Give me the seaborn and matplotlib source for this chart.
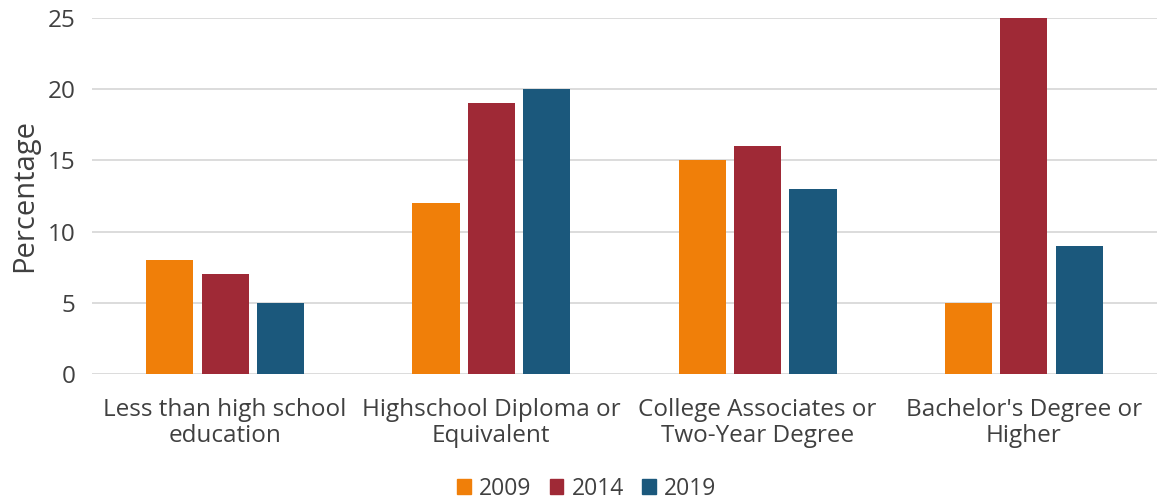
import pandas as pd
import seaborn as sns
from matplotlib import pyplot as plt

# data
categories = ['Less than high school\neducation', 'Highschool Diploma or\nEquivalent',
              'College Associates or\nTwo-Year Degree', "Bachelor's Degree or\nHigher"]
years = ['2009', '2014', '2019']
pct_2009 = [8, 12, 15, 5]
pct_2014 = [7, 19, 16, 25]
pct_2019 = [5, 20, 13, 9]
colors = ['#F07F09', '#9F2936', '#1B587C']

df = pd.DataFrame({
    'Category': categories * 3,
    'Year': [y for y in years for _ in categories],
    'Percentage': pct_2009 + pct_2014 + pct_2019,
})

sns.set_theme(style='white')
plt.rcParams['font.family'] = ['Open Sans', 'DejaVu Sans']
text_col = '#404040'

fig = plt.figure(figsize=(11.57, 4.99), dpi=100)
ax = fig.add_axes([0.0795, 0.2505, 0.9205, 0.7135])

sns.barplot(data=df, x='Category', y='Percentage', hue='Year', hue_order=years,
            palette=colors, width=0.624, gap=0.15, ax=ax, legend=False,
            saturation=1, linewidth=0)

ax.set_ylim(0, 25)
ax.set_yticks([0, 5, 10, 15, 20, 25])
ax.set_xlim(-0.5, 3.5)
ax.yaxis.grid(True, color='#D9D9D9', linewidth=1.3)
ax.set_axisbelow(True)
for s in ax.spines.values():
    s.set_visible(False)
ax.tick_params(axis='both', length=0, labelsize=17.5, colors=text_col, pad=12)
ax.tick_params(axis='x', pad=17)
for lbl in ax.get_xticklabels():
    lbl.set_linespacing(1.15)
ax.set_xlabel('')
ax.set_ylabel('Percentage', fontsize=21, color=text_col, labelpad=6)

handles = [plt.Rectangle((0, 0), 1, 1, color=c) for c in colors]
fig.legend(handles, years, loc='lower center', bbox_to_anchor=(0.507, -0.045), ncol=3,
           frameon=False, fontsize=16.5, handlelength=0.6, handleheight=0.6,
           handletextpad=0.35, columnspacing=0.8, labelcolor=text_col)

fig.savefig('out.png', dpi=100)
